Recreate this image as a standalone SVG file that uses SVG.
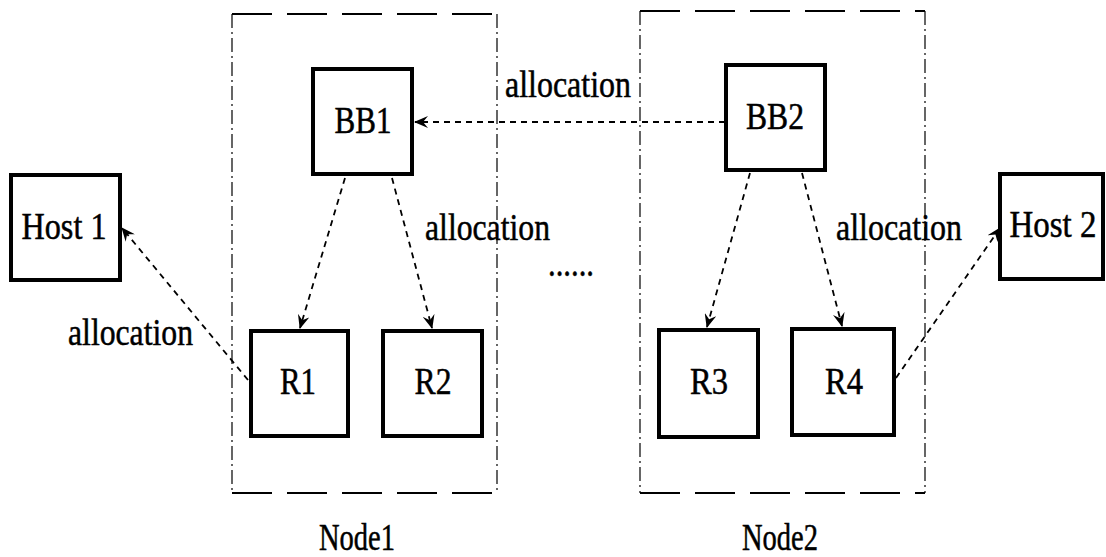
<svg xmlns="http://www.w3.org/2000/svg" width="1106" height="557" viewBox="0 0 1106 557">
<defs>
<style>
.box{fill:#fff;stroke:#000;stroke-width:4}
.t{font-family:"Liberation Serif","Times New Roman",serif;font-size:37px;fill:#000;stroke:#000;stroke-width:0.5}
.edge{fill:none;stroke:#000;stroke-width:1.8;stroke-dasharray:6 5}
.ch{fill:none;stroke:#000;stroke-width:2;stroke-dasharray:40 15}
.cv{fill:none;stroke:#000;stroke-width:1.2;stroke-dasharray:14 4 2 4}
</style>
<marker id="arr" viewBox="0 0 14 12" refX="13" refY="6" markerWidth="14" markerHeight="12" markerUnits="userSpaceOnUse" orient="auto">
<path d="M0,0 L14,6 L0,12 L5,6 z" fill="#000"/>
</marker>
</defs>
<rect width="1106" height="557" fill="#fff"/>
<g id="node1-container">
<line class="ch" x1="232" y1="14" x2="497" y2="14"/>
<line class="ch" x1="232" y1="493" x2="497" y2="493"/>
<line class="cv" x1="232" y1="14" x2="232" y2="493"/>
<line class="cv" x1="497" y1="14" x2="497" y2="493"/>
<text class="t" x="357" y="550" text-anchor="middle" textLength="76" lengthAdjust="spacingAndGlyphs">Node1</text>
</g>
<g id="node2-container">
<line class="ch" x1="640" y1="11" x2="925" y2="11"/>
<line class="ch" x1="640" y1="493" x2="925" y2="493"/>
<line class="cv" x1="640" y1="11" x2="640" y2="493"/>
<line class="cv" x1="925" y1="11" x2="925" y2="493"/>
<text class="t" x="780" y="550" text-anchor="middle" textLength="76" lengthAdjust="spacingAndGlyphs">Node2</text>
</g>
<g id="connectors">
<line class="edge" x1="725" y1="122" x2="415" y2="122" marker-end="url(#arr)"/>
<line class="edge" x1="345" y1="178" x2="300" y2="328" marker-end="url(#arr)"/>
<line class="edge" x1="392" y1="178" x2="432" y2="328" marker-end="url(#arr)"/>
<line class="edge" x1="750" y1="173" x2="707" y2="327" marker-end="url(#arr)"/>
<line class="edge" x1="802" y1="173" x2="842" y2="326" marker-end="url(#arr)"/>
<line class="edge" x1="248" y1="380" x2="122" y2="228" marker-end="url(#arr)"/>
<line class="edge" x1="896" y1="378" x2="1000" y2="228" marker-end="url(#arr)"/>
<text class="t" x="505" y="97" textLength="126" lengthAdjust="spacingAndGlyphs">allocation</text>
<text class="t" x="425" y="240" textLength="125" lengthAdjust="spacingAndGlyphs">allocation</text>
<text class="t" x="836" y="240" textLength="126" lengthAdjust="spacingAndGlyphs">allocation</text>
<text class="t" x="68" y="345" textLength="125" lengthAdjust="spacingAndGlyphs">allocation</text>
</g>
<g id="BB1"><rect class="box" x="313" y="69" width="99" height="105"/><text class="t" x="363" y="133" text-anchor="middle" textLength="57" lengthAdjust="spacingAndGlyphs">BB1</text></g>
<g id="BB2"><rect class="box" x="726" y="65" width="99" height="105"/><text class="t" x="775" y="129" text-anchor="middle" textLength="58" lengthAdjust="spacingAndGlyphs">BB2</text></g>
<g id="Host1"><rect class="box" x="11" y="175" width="109" height="105"/><text class="t" x="64" y="239" text-anchor="middle" textLength="85" lengthAdjust="spacingAndGlyphs">Host 1</text></g>
<g id="Host2"><rect class="box" x="1000" y="174" width="103" height="105"/><text class="t" x="1053" y="237" text-anchor="middle" textLength="87" lengthAdjust="spacingAndGlyphs">Host 2</text></g>
<g id="R1"><rect class="box" x="251" y="331" width="97" height="105"/><text class="t" x="298" y="394" text-anchor="middle" textLength="36" lengthAdjust="spacingAndGlyphs">R1</text></g>
<g id="R2"><rect class="box" x="383" y="331" width="99" height="105"/><text class="t" x="433" y="394" text-anchor="middle" textLength="37" lengthAdjust="spacingAndGlyphs">R2</text></g>
<g id="R3"><rect class="box" x="659" y="330" width="99" height="107"/><text class="t" x="709" y="394" text-anchor="middle" textLength="38" lengthAdjust="spacingAndGlyphs">R3</text></g>
<g id="R4"><rect class="box" x="792" y="329" width="102" height="106"/><text class="t" x="844" y="394" text-anchor="middle" textLength="38" lengthAdjust="spacingAndGlyphs">R4</text></g>
<text class="t" x="548" y="276" textLength="46" lengthAdjust="spacingAndGlyphs">......</text>
</svg>
